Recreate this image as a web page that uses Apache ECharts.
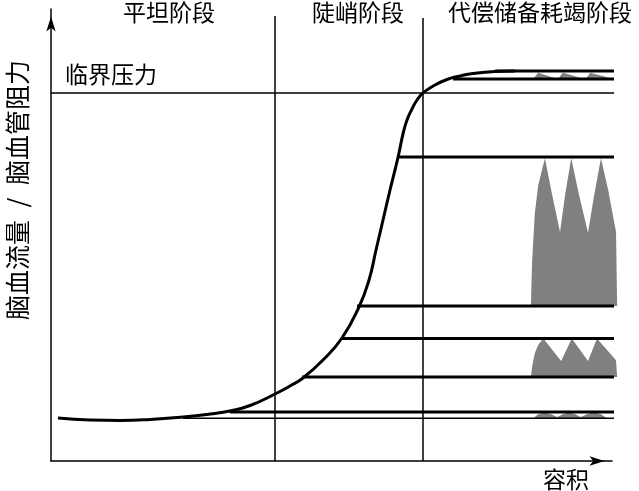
<!DOCTYPE html>
<html><head><meta charset="utf-8">
<script src="https://cdn.jsdelivr.net/npm/echarts@6/dist/echarts.min.js"></script>
<style>html,body{margin:0;padding:0;background:#fff}#c{width:639px;height:491px}</style>
</head><body><div id="c"></div>
<script>
// ---- data (value space: x 0..100, y 0..100) ----
const curveX = [1.25, 6.96, 12.32, 17.68, 23.57, 28.39, 31.96, 35.54, 40.0, 42.68, 45.0, 48.57, 51.96, 55.0, 56.79, 58.04, 59.29, 60.54, 61.43, 62.14, 62.86, 63.57, 64.46, 65.36, 66.43, 68.57, 70.71, 73.04, 75.36, 79.29, 82.86];
const curveY = [9.56, 9.11, 9.0, 9.22, 9.78, 10.44, 11.11, 12.33, 14.89, 16.67, 18.44, 22.44, 27.33, 34.22, 40.22, 46.89, 53.56, 60.22, 64.67, 68.44, 72.67, 75.78, 78.22, 80.22, 81.78, 83.56, 84.78, 85.56, 86.11, 86.56, 86.67];

const levelY     = [86.67, 84.89, 67.56, 34.44, 27.22, 18.67, 10.89, 9.49];
const levelStart = [79.3, 71.79, 61.96, 54.64, 51.96, 44.82, 31.96, 23.6];
const levelEnd   = [100.9, 100.9, 101.96, 101.1, 100.9, 101.1, 101.1, 101.1];

const criticalY = 81.78;
const criticalRange = [0, 100.9];

const stageBoundX = [40.0, 66.43];
const stageBoundTop = [98.89, 98.44];

const stageNames = ['平坦阶段', '陡峭阶段', '代偿储备耗竭阶段'];
const criticalLabel = '临界压力';
const yAxisLabel = '脑血流量\u2002/\u2002脑血管阻力';
const xAxisLabel = '容积';

const wave1X = [86.1, 87.0, 90.2, 90.5, 91.4, 95.0, 95.5, 96.3, 100.2, 100.2];
const wave1Y = [84.9, 86.3, 85.0, 84.9, 86.3, 85.0, 84.9, 86.3, 85.0, 84.9];
const wave2X = [85.7, 85.9, 86.4, 87.0, 88.2, 89.5, 90.9, 91.8, 92.9, 94.3, 95.9, 97.0, 98.2, 99.5, 100.9, 101.1];
const wave2Y = [34.44, 44.0, 55.1, 61.3, 67.3, 59.1, 50.9, 59.1, 67.3, 59.1, 50.7, 59.1, 67.3, 60.2, 50.9, 34.44];
const wave3X = [85.7, 85.9, 86.4, 87.0, 87.9, 91.1, 93.0, 95.9, 97.5, 100.9, 101.1];
const wave3Y = [18.67, 20.9, 24.0, 25.8, 27.2, 22.2, 27.2, 22.2, 27.2, 22.4, 18.67];
const wave4X = [86.1, 87.0, 88.2, 89.3, 90.4, 91.4, 92.5, 93.6, 94.6, 95.7, 97.0, 98.2, 99.3];
const wave4Y = [9.5, 10.4, 10.85, 10.4, 9.8, 10.4, 10.85, 10.4, 9.8, 10.4, 10.85, 10.4, 9.5];

// ---- styles ----
const FONT = '"Noto Sans CJK SC", "Noto Sans", sans-serif';
const levelWidths = [3, 3, 3, 3, 3, 3, 3, 1.5];
const GRAY = '#808080';

const zip = (xs, ys) => xs.map((x, i) => [x, ys[i]]);

const series = [];
[[wave1X, wave1Y], [wave2X, wave2Y], [wave3X, wave3Y], [wave4X, wave4Y]].forEach(([xs, ys]) => {
  series.push({
    type: 'custom', clip: false, z: 1, silent: true,
    data: [[0, 0]],
    renderItem: (params, api) => ({
      type: 'polygon',
      shape: { points: xs.map((x, i) => api.coord([x, ys[i]])) },
      style: { fill: GRAY, stroke: null }
    })
  });
});
levelY.forEach((y, i) => {
  series.push({
    type: 'line', clip: false, z: 4, silent: true, showSymbol: false, symbol: 'none',
    data: [[levelStart[i], y], [levelEnd[i], y]],
    lineStyle: { color: '#000', width: levelWidths[i] }
  });
});
series.push({
  type: 'line', clip: false, z: 3, silent: true, symbol: 'none',
  data: [[criticalRange[0], criticalY], [criticalRange[1], criticalY]],
  lineStyle: { color: '#000', width: 1.5 }
});
stageBoundX.forEach((x, i) => {
  series.push({
    type: 'line', clip: false, z: 3, silent: true, symbol: 'none',
    data: [[x, 0], [x, stageBoundTop[i]]],
    lineStyle: { color: '#000', width: 1.5 }
  });
});
series.push({
  type: 'line', clip: false, z: 5, silent: true, symbol: 'none', smooth: 0.5,
  data: zip(curveX, curveY),
  lineStyle: { color: '#000', width: 3 }
});

const txt = (text, x, y, size, align, rot) => ({
  type: 'text', x: x, y: y, rotation: rot || 0, silent: true,
  style: { text: text, x: 0, y: 0, fill: '#000', fontSize: size, fontFamily: FONT,
           textAlign: align || 'center', textVerticalAlign: 'middle', verticalAlign: 'middle' }
});

const chart = echarts.init(document.getElementById('c'), null, { renderer: 'canvas' });
chart.setOption({
  animation: false,
  backgroundColor: '#fff',
  grid: { left: 51, top: 9, width: 561, height: 452, containLabel: false, outerBoundsMode: 'none' },
  xAxis: {
    type: 'value', min: 0, max: 100.18,
    axisLine: { show: true, onZero: false, symbol: ['none', 'arrow'], symbolSize: [7, 15], symbolOffset: [0, -7.5],
                lineStyle: { color: '#000', width: 1.5 } },
    axisTick: { show: false }, axisLabel: { show: false }, splitLine: { show: false }
  },
  yAxis: {
    type: 'value', min: 0, max: 100.44,
    axisLine: { show: true, onZero: false, symbol: ['none', 'arrow'], symbolSize: [7, 15], symbolOffset: [0, -7.5],
                lineStyle: { color: '#000', width: 1.5 } },
    axisTick: { show: false }, axisLabel: { show: false }, splitLine: { show: false }
  },
  graphic: [
    txt(stageNames[0], 169, 12, 23),
    txt(stageNames[1], 358, 12, 23),
    txt(stageNames[2], 540, 12, 23),
    txt(criticalLabel, 65, 74, 23, 'left'),
    txt(xAxisLabel, 566, 479, 23),
    txt(yAxisLabel, 17, 190, 25, 'center', Math.PI / 2)
  ],
  series: series
});
</script></body></html>
